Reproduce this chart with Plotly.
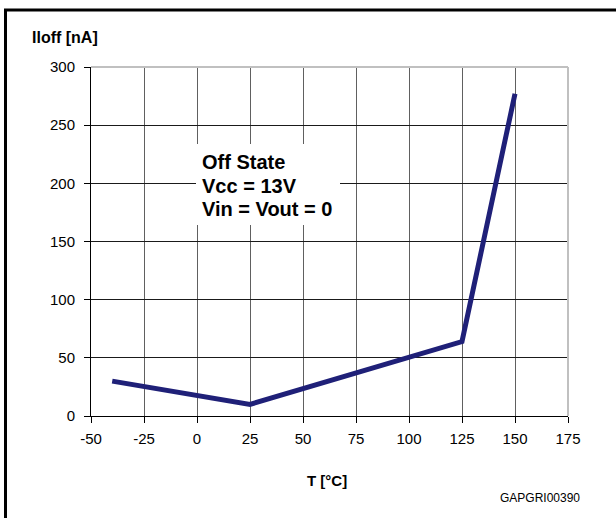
import plotly.graph_objects as go

temps = [-40, 25, 125, 150]
iloff = [30, 10, 64, 277]
x_ticks = [-50, -25, 0, 25, 50, 75, 100, 125, 150, 175]
y_ticks = [0, 50, 100, 150, 200, 250, 300]
note_lines = ["Off State", "Vcc = 13V", "Vin = Vout = 0"]

W, H = 616, 518
L, R, T, B = 91, 48, 67, 102
PW, PH = W - L - R, H - T - B


def xp(px):
    return (px - L) / PW


def yp(py):
    return (H - B - py) / PH


fig = go.Figure()
fig.add_trace(go.Scatter(x=temps, y=iloff, mode="lines",
                         line=dict(color="#1F2078", width=5),
                         hoverinfo="skip", showlegend=False))

fig.update_layout(
    width=W, height=H,
    margin=dict(l=L, r=R, t=T, b=B),
    paper_bgcolor="white", plot_bgcolor="white",
    font=dict(family="Arial, Liberation Sans, sans-serif", color="black"),
    xaxis=dict(range=[-50, 175], tickvals=x_ticks, ticktext=[str(v) for v in x_ticks],
               showgrid=True, gridcolor="#606060", gridwidth=1,
               showline=True, linecolor="black", linewidth=1,
               ticks="outside", ticklen=6, tickcolor="black",
               tickfont=dict(size=15), ticklabelstandoff=3, zeroline=False),
    yaxis=dict(range=[0, 300], tickvals=y_ticks, ticktext=[str(v) for v in y_ticks],
               showgrid=True, gridcolor="#1a1a1a", gridwidth=1,
               showline=True, linecolor="black", linewidth=1,
               ticks="outside", ticklen=6, tickcolor="black",
               tickfont=dict(size=15), ticklabelstandoff=6, zeroline=False),
)

shapes = [
    # outer frame
    dict(type="rect", xref="paper", yref="paper",
         x0=xp(5.5), x1=xp(630), y0=yp(530), y1=yp(10),
         line=dict(color="black", width=3), fillcolor="rgba(0,0,0,0)", layer="above"),
    # light gray top and right plot borders
    dict(type="line", xref="paper", yref="paper", x0=0, x1=1, y0=1, y1=1,
         line=dict(color="#c0c0c0", width=2), layer="above"),
    dict(type="line", xref="paper", yref="paper", x0=1, x1=1, y0=0, y1=1,
         line=dict(color="#c0c0c0", width=2), layer="above"),
    # white box behind annotation
    dict(type="rect", xref="paper", yref="paper",
         x0=xp(196), x1=xp(340), y0=yp(225), y1=yp(144),
         line=dict(width=0), fillcolor="white", layer="above"),
]
fig.update_layout(shapes=shapes)

for i, line in enumerate(note_lines):
    fig.add_annotation(xref="paper", yref="paper", x=xp(200), y=yp(162 + 23.5 * i),
                       xanchor="left", yanchor="middle", align="left", showarrow=False,
                       text="<b>" + line + "</b>",
                       font=dict(size=20, color="black"))
fig.add_annotation(xref="paper", yref="paper", x=xp(30), y=yp(38),
                   xanchor="left", yanchor="middle", showarrow=False,
                   text="<b>Iloff [nA]</b>", font=dict(size=16))
fig.add_annotation(xref="paper", yref="paper", x=xp(327), y=yp(480),
                   xanchor="center", yanchor="middle", showarrow=False,
                   text="<b>T [°C]</b>", font=dict(size=15))
fig.add_annotation(xref="paper", yref="paper", x=xp(582), y=yp(498),
                   xanchor="right", yanchor="middle", showarrow=False,
                   text="GAPGRI00390", font=dict(size=12))

fig.write_html("out.html", config={"displayModeBar": False},
               post_script="document.body.style.margin='0';document.body.style.overflow='hidden';")
